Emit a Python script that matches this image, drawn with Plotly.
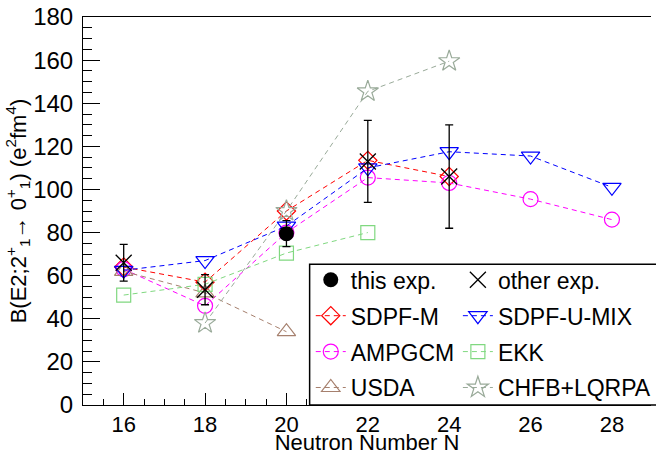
import plotly.graph_objects as go

# ---- data ----
this_N = [20]
this_B = [79.5]
this_err = [6]

other_N = [16, 18, 22, 24]
other_B = [66, 53.5, 113, 106]
other_err = [8.5, 7, 19, 24]

sdpfm_N = [16, 18, 20, 22, 24]
sdpfm_B = [64, 57, 90, 113.5, 106]

sdpfu_N = [16, 18, 20, 22, 24, 26, 28]
sdpfu_B = [62.5, 67, 83, 110, 117.5, 115.5, 101]

ampgcm_N = [16, 18, 20, 22, 24, 26, 28]
ampgcm_B = [63, 46, 80, 105.5, 103, 95.5, 86]

ekk_N = [16, 18, 20, 22]
ekk_B = [51, 56, 70.5, 80]

usda_N = [16, 18, 20]
usda_B = [62, 52, 34]

chfb_N = [18, 20, 22, 24]
chfb_B = [38, 90, 145.5, 159.5]

x_ticks = [16, 18, 20, 22, 24, 26, 28]
y_ticks = [0, 20, 40, 60, 80, 100, 120, 140, 160, 180]

FONT = "Liberation Sans, Arial, Helvetica, sans-serif"
DASH = "5px,4px"

fig = go.Figure()

def model(name, xs, ys, color, symbol, size, legend, rank):
    fig.add_trace(go.Scatter(
        x=xs, y=ys, name=name, mode="lines+markers",
        line=dict(color=color, width=1, dash=DASH),
        marker=dict(symbol=symbol, size=size, color=color,
                    line=dict(color=color, width=1.2)),
        legend=legend, legendgroup=name, legendrank=rank))

# model curves (drawn first)
model("SDPF-M", sdpfm_N, sdpfm_B, "#FF0000", "diamond-open", 14, "legend", 2)
model("AMPGCM", ampgcm_N, ampgcm_B, "#FF00FF", "circle-open", 15, "legend", 3)
model("USDA", usda_N, usda_B, "#A6806E", "triangle-up-open", 16, "legend", 4)
model("SDPF-U-MIX", sdpfu_N, sdpfu_B, "#0000FF", "triangle-down-open", 16, "legend2", 2)
model("EKK", ekk_N, ekk_B, "#80D880", "square-open", 14, "legend2", 3)
model("CHFB+LQRPA", chfb_N, chfb_B, "#99AA99", "star-open", 16, "legend2", 4)

# experimental points on top
fig.add_trace(go.Scatter(
    x=this_N, y=this_B, name="this exp.", mode="markers",
    marker=dict(symbol="circle", size=15, color="black"),
    error_y=dict(type="data", array=this_err, color="black", thickness=1.3, width=4),
    legend="legend", legendgroup="this", legendrank=1))
fig.add_trace(go.Scatter(
    x=other_N, y=other_B, name="other exp.", mode="markers",
    marker=dict(symbol="x-thin-open", size=16, color="black",
                line=dict(color="black", width=1.3)),
    error_y=dict(type="data", array=other_err, color="black", thickness=1.3, width=4),
    legend="legend2", legendgroup="other", legendrank=1))

leg_common = dict(bgcolor="rgba(0,0,0,0)", borderwidth=0,
                  font=dict(family=FONT, size=23, color="black"),
                  xanchor="left", yanchor="top", tracegroupgap=3,
                  traceorder="grouped")

fig.update_layout(
    width=656, height=455,
    margin=dict(l=83, r=0, t=17, b=50),
    paper_bgcolor="white", plot_bgcolor="white",
    font=dict(family=FONT, size=22, color="black"),
    showlegend=True,
    legend=dict(x=0.401, y=0.378, **leg_common),
    legend2=dict(x=0.66, y=0.378, **leg_common),
    shapes=[dict(type="rect", xref="paper", yref="paper",
                 x0=0.399, x1=1.02, y0=0, y1=0.363,
                 line=dict(color="black", width=1.5),
                 fillcolor="white", layer="above")],
    xaxis=dict(range=[15, 28.96], tickvals=x_ticks, ticktext=[str(v) for v in x_ticks],
               ticks="inside", ticklen=12, tickwidth=1, tickcolor="black",
               showline=True, linecolor="black", linewidth=1, mirror=True,
               showgrid=False, zeroline=False,
               minor=dict(dtick=0.5, tick0=15, ticks="inside", ticklen=6,
                          tickwidth=1, tickcolor="black", showgrid=False),
               tickfont=dict(family=FONT, size=22, color="black"),
               ticklabelstandoff=0,
               title=dict(text="Neutron Number N", standoff=7,
                          font=dict(family=FONT, size=22, color="black")),
               automargin=False),
    yaxis=dict(range=[0, 180], tickvals=y_ticks, ticktext=[str(v) for v in y_ticks],
               ticks="inside", ticklen=17, tickwidth=1, tickcolor="black",
               showline=True, linecolor="black", linewidth=1, mirror=False,
               showgrid=False, zeroline=False,
               minor=dict(dtick=5, tick0=0, ticks="inside", ticklen=9,
                          tickwidth=1, tickcolor="black", showgrid=False),
               tickfont=dict(family=FONT, size=24, color="black"),
               ticklabelstandoff=4,
               title=dict(text="B(E2;2<sup>+</sup><sub>1</sub>\u2192 0<sup>+</sup><sub>1</sub>) (e<sup>2</sup>fm<sup>4</sup>)",
                          standoff=0,
                          font=dict(family=FONT, size=22, color="black")),
               automargin=False),
)

fig.write_html("out.html")
